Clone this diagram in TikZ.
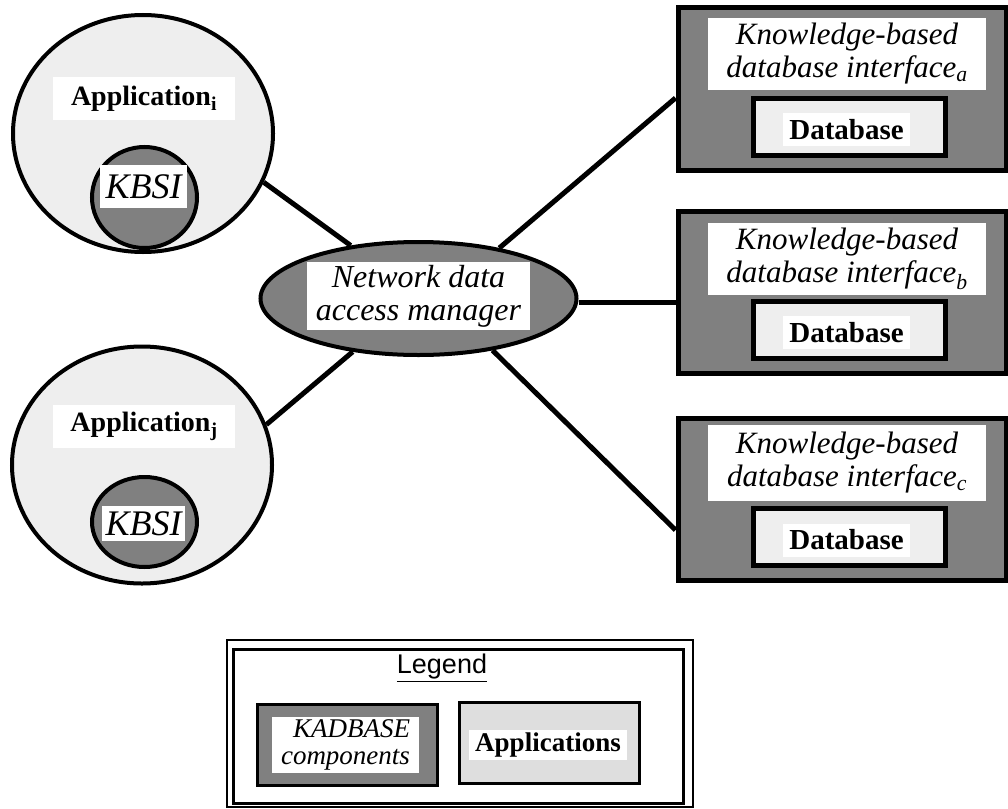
\documentclass[tikz,border=0pt]{standalone}
\usepackage{fontspec}
\setmainfont{Liberation Serif}
\newfontfamily\legsans{Liberation Sans}
\usetikzlibrary{shapes.geometric,calc,backgrounds}
\definecolor{dk}{HTML}{808080}
\definecolor{lt}{HTML}{EEEEEE}
\definecolor{lg}{HTML}{DEDEDE}
\begin{document}
\begin{tikzpicture}[x=1pt,y=-1pt,
  appshape/.style={ellipse, draw, line width=4pt, fill=lt, inner sep=0pt},
  kbsishape/.style={ellipse, draw, line width=4pt, fill=dk, inner sep=0pt},
  whitelabel/.style={fill=white, inner sep=0pt, align=center},
  applabel/.style={whitelabel, minimum width=182pt, minimum height=43pt, font=\bfseries\fontsize{28}{30}\selectfont},
  kbsilabel/.style={whitelabel, font=\itshape\fontsize{36}{38}\selectfont},
  link/.style={line width=5pt},
  kbbox/.style={draw, line width=5pt, fill=dk, inner sep=0pt, minimum width=328pt, minimum height=162pt},
  kblabel/.style={whitelabel, minimum width=278pt, minimum height=72pt, font=\itshape\fontsize{31}{33}\selectfont},
  dbbox/.style={draw, line width=5pt, fill=lt, inner sep=0pt, minimum width=192pt, minimum height=57pt},
  dblabel/.style={whitelabel, minimum width=127pt, minimum height=33pt, font=\bfseries\fontsize{29}{30}\selectfont}
]
\useasboundingbox (0,0) rectangle (1008,808);

% Applications
\node[appshape, minimum width=260pt, minimum height=237pt] (appi) at (143,133.5) {};
\node[applabel] (appil) at (144,98.5) {Application\textsubscript{i}};
\node[kbsishape, minimum width=105pt, minimum height=101pt] (kbsii) at (144.5,197.5) {};
\node[kbsilabel, minimum width=87pt, minimum height=43pt] (kbsiil) at (143.5,186.5) {KBSI};

\node[appshape, minimum width=260pt, minimum height=237pt] (appj) at (142,465) {};
\node[applabel] (appjl) at (144,426.5) {Application\textsubscript{j}};
\node[kbsishape, minimum width=105pt, minimum height=90pt] (kbsij) at (144.5,522) {};
\node[kbsilabel, minimum width=83pt, minimum height=35pt] (kbsijl) at (143.5,523.5) {KBSI};

% Network data access manager
\node[ellipse, draw, line width=4pt, fill=dk, inner sep=0pt, minimum width=316pt, minimum height=113pt] (net) at (418.5,298.5) {};
\node[whitelabel, minimum width=223pt, minimum height=68pt, font=\itshape\fontsize{32}{33}\selectfont] (netl) at (418.5,296) {Network data\\access manager};

% Knowledge-based database interfaces
\node[kbbox] (kba) at (842,89) {};
\node[kblabel] (kbal) at (847,54) {Knowledge-based\\database interface\textsubscript{a}};
\node[dbbox] (dba) at (849,126.5) {};
\node[dblabel] (dbal) at (846.5,129.5) {Database};

\node[kbbox] (kbb) at (842,292.5) {};
\node[kblabel] (kbbl) at (847,259) {Knowledge-based\\database interface\textsubscript{b}};
\node[dbbox] (dbb) at (849,329.5) {};
\node[dblabel] (dbbl) at (846.5,332.5) {Database};

\node[kbbox] (kbc) at (842,499) {};
\node[kblabel, minimum height=76pt] (kbcl) at (847,463) {Knowledge-based\\database interface\textsubscript{c}};
\node[dbbox] (dbc) at (849,537) {};
\node[dblabel] (dbcl) at (846.5,540) {Database};

% Connectors
\begin{pgfonlayer}{background}
\draw[link] (appi.-22.7) -- (net.142.3);
\draw[link] (appj.18.9) -- (net.219.5);
\draw[link] (net.32.9) -- ($(kba.west)+(0,9)$);
\draw[link] ($(net.east)+(0,4)$) -- ($(kbb.west)+(0,10)$);
\draw[link] (net.-35.5) -- ($(kbc.west)+(0,31)$);
\end{pgfonlayer}

% Legend
\node[draw, line width=2pt, inner sep=0pt, minimum width=466pt, minimum height=167pt] (legout) at (460,723.5) {};
\node[draw, line width=3pt, inner sep=0pt, minimum width=450pt, minimum height=154pt] (legin) at (458,726) {};
\node[font=\legsans\fontsize{27}{29}\selectfont, inner sep=0pt] (legt) at (442,668) {\underline{Legend}};
\node[draw, line width=3pt, fill=dk, inner sep=0pt, minimum width=180pt, minimum height=81pt] (legk) at (347,744.5) {};
\node[whitelabel, align=right, minimum width=147pt, minimum height=56pt, font=\itshape\fontsize{27}{27}\selectfont] (legkl) at (345.5,745) {KADBASE\\components};
\node[draw, line width=3pt, fill=lg, inner sep=0pt, minimum width=180pt, minimum height=81pt] (lega) at (549,742.5) {};
\node[whitelabel, minimum width=158pt, minimum height=30pt, font=\bfseries\fontsize{27}{28}\selectfont] (legal) at (548,745) {Applications};
\end{tikzpicture}
\end{document}
